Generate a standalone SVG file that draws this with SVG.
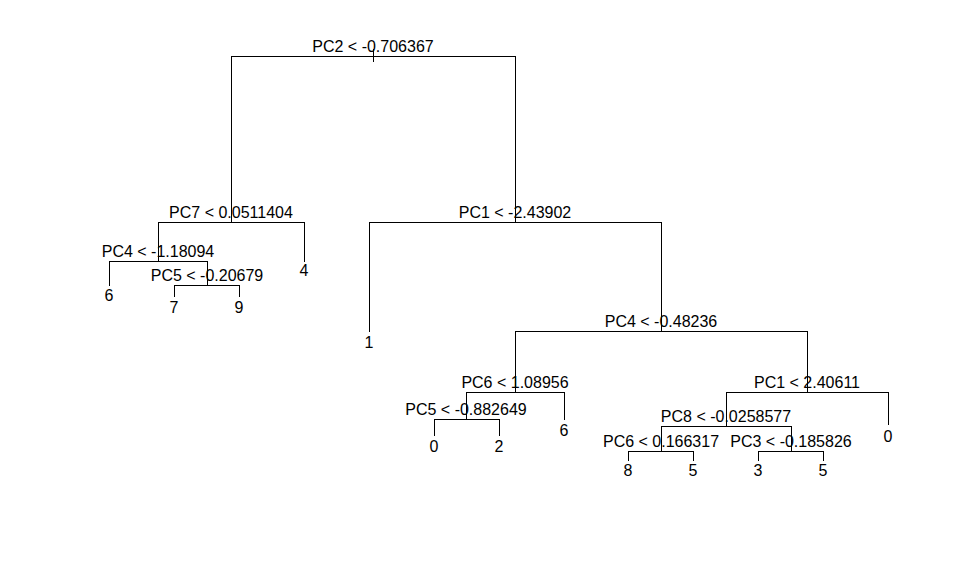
<svg xmlns="http://www.w3.org/2000/svg" width="960" height="576" viewBox="0 0 960 576">
<style>
text{font-family:"Liberation Sans",Arial,sans-serif;font-size:16px;fill:#000;text-anchor:middle}
.c path{stroke:#000;stroke-width:1;fill:none;shape-rendering:crispEdges}
</style>
<rect width="960" height="576" fill="#fff"/>
<g class="c" id="connectors">
<path d="M373.5 49V62"/>
<path d="M231.5 56.5H515.5M231.5 56V222M515.5 56V222"/>
<path d="M158.5 222.5H304.5M158.5 222V261M304.5 222V262"/>
<path d="M109.5 261.5H207.5M109.5 261V286M207.5 261V285"/>
<path d="M174.5 285.5H239.5M174.5 285V297M239.5 285V297"/>
<path d="M369.5 222.5H661.5M369.5 222V332M661.5 222V331"/>
<path d="M515.5 331.5H807.5M515.5 331V392M807.5 331V392"/>
<path d="M466.5 392.5H564.5M466.5 392V419M564.5 392V420"/>
<path d="M434.5 419.5H499.5M434.5 419V436M499.5 419V436"/>
<path d="M726.5 392.5H888.5M726.5 392V426M888.5 392V425"/>
<path d="M661.5 426.5H791.5M661.5 426V451M791.5 426V451"/>
<path d="M628.5 451.5H693.5M628.5 451V461M693.5 451V461"/>
<path d="M758.5 451.5H823.5M758.5 451V461M823.5 451V461"/>
</g>
<g id="n_root"><text x="373" y="52">PC2 &lt; -0.706367</text></g>
<g id="n_pc7"><text x="231" y="218">PC7 &lt; 0.0511404</text></g>
<g id="n_pc1a"><text x="515" y="218">PC1 &lt; -2.43902</text></g>
<g id="n_pc4a"><text x="158" y="257">PC4 &lt; -1.18094</text></g>
<g id="n_pc5a"><text x="207" y="281">PC5 &lt; -0.20679</text></g>
<g id="n_pc4b"><text x="661" y="327">PC4 &lt; -0.48236</text></g>
<g id="n_pc6a"><text x="515" y="388">PC6 &lt; 1.08956</text></g>
<g id="n_pc1b"><text x="807" y="388">PC1 &lt; 2.40611</text></g>
<g id="n_pc5b"><text x="466" y="415">PC5 &lt; -0.882649</text></g>
<g id="n_pc8"><text x="726" y="422">PC8 &lt; -0.0258577</text></g>
<g id="n_pc6b"><text x="661" y="447">PC6 &lt; 0.166317</text></g>
<g id="n_pc3"><text x="791" y="447">PC3 &lt; -0.185826</text></g>
<g id="leaf_6a"><text x="109" y="301">6</text></g>
<g id="leaf_7"><text x="174" y="313">7</text></g>
<g id="leaf_9"><text x="239" y="313">9</text></g>
<g id="leaf_4"><text x="304" y="276">4</text></g>
<g id="leaf_1"><text x="369" y="348">1</text></g>
<g id="leaf_0a"><text x="434" y="452">0</text></g>
<g id="leaf_2"><text x="499" y="452">2</text></g>
<g id="leaf_6b"><text x="564" y="436">6</text></g>
<g id="leaf_8"><text x="628" y="476">8</text></g>
<g id="leaf_5a"><text x="693" y="476">5</text></g>
<g id="leaf_3"><text x="758" y="476">3</text></g>
<g id="leaf_5b"><text x="823" y="476">5</text></g>
<g id="leaf_0b"><text x="888" y="442">0</text></g>
</svg>
